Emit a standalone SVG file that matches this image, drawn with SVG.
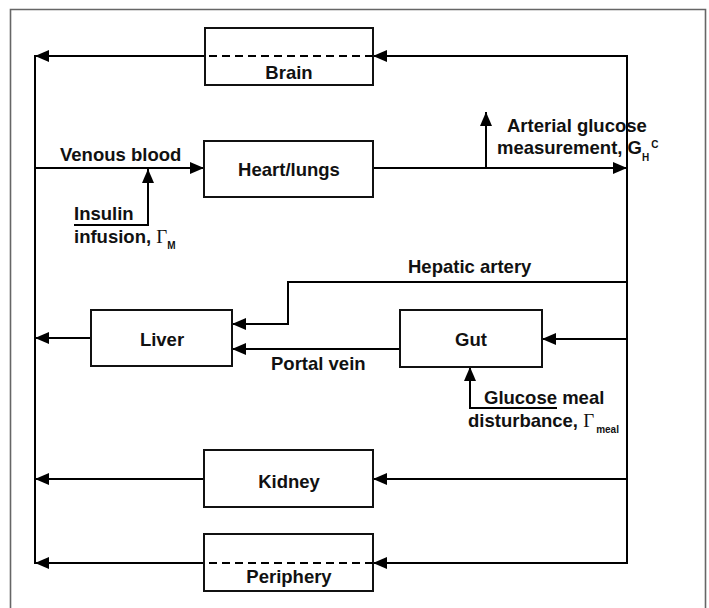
<svg xmlns="http://www.w3.org/2000/svg" width="709" height="608" viewBox="0 0 709 608">
<defs>
<marker id="ah" markerUnits="userSpaceOnUse" markerWidth="14" markerHeight="12" refX="14" refY="6" orient="auto">
<path d="M0,0 L14,6 L0,12 Z" fill="#000"/>
</marker>
<style>
.box{fill:#fff;stroke:#111;stroke-width:2}
.ln{fill:none;stroke:#000;stroke-width:2}
.dash{fill:none;stroke:#000;stroke-width:2;stroke-dasharray:8 5}
.t{font-family:"Liberation Sans",Arial,sans-serif;font-weight:bold;font-size:18.5px;fill:#111}
.c{text-anchor:middle}
.g{font-family:"Liberation Serif","Times New Roman",serif;font-weight:normal;font-size:19px;fill:#111}
.s{font-family:"Liberation Sans",Arial,sans-serif;font-weight:bold;font-size:10px;fill:#111}
</style>
</defs>
<rect width="709" height="608" fill="#fff"/>
<path d="M10.5,612 V9.5 H705.5 V612" fill="none" stroke="#666" stroke-width="1.6"/>

<g id="connectors">
<line class="ln" x1="627" y1="56" x2="373" y2="56" marker-end="url(#ah)"/>
<line class="ln" x1="205" y1="56" x2="35" y2="56" marker-end="url(#ah)"/>
<line class="ln" x1="35" y1="55" x2="35" y2="564"/>
<line class="ln" x1="627" y1="55" x2="627" y2="564"/>
<line class="ln" x1="35" y1="168" x2="204" y2="168" marker-end="url(#ah)"/>
<path class="ln" d="M74,225 H148 V169" marker-end="url(#ah)"/>
<line class="ln" x1="373" y1="168" x2="627" y2="168" marker-end="url(#ah)"/>
<line class="ln" x1="486" y1="168" x2="486" y2="112" marker-end="url(#ah)"/>
<path class="ln" d="M627,282 H288 V324 H232" marker-end="url(#ah)"/>
<line class="ln" x1="400" y1="349" x2="232" y2="349" marker-end="url(#ah)"/>
<line class="ln" x1="91" y1="338" x2="35" y2="338" marker-end="url(#ah)"/>
<line class="ln" x1="627" y1="339" x2="542" y2="339" marker-end="url(#ah)"/>
<path class="ln" d="M557,408 H470 V367" marker-end="url(#ah)"/>
<line class="ln" x1="627" y1="479" x2="373" y2="479" marker-end="url(#ah)"/>
<line class="ln" x1="204" y1="479" x2="35" y2="479" marker-end="url(#ah)"/>
<line class="ln" x1="627" y1="563" x2="373" y2="563" marker-end="url(#ah)"/>
<line class="ln" x1="205" y1="563" x2="35" y2="563" marker-end="url(#ah)"/>
</g>

<g id="brain">
<rect class="box" x="205" y="28" width="168" height="57"/>
<line class="dash" x1="373" y1="56" x2="205" y2="56"/>
<text class="t c" x="289" y="79">Brain</text>
</g>
<g id="heart">
<rect class="box" x="204" y="141" width="169" height="56"/>
<text class="t c" x="289" y="176">Heart/lungs</text>
</g>
<g id="liver">
<rect class="box" x="91" y="310" width="141" height="56"/>
<text class="t c" x="162" y="346">Liver</text>
</g>
<g id="gut">
<rect class="box" x="400" y="310" width="142" height="57"/>
<text class="t c" x="471" y="346">Gut</text>
</g>
<g id="kidney">
<rect class="box" x="204" y="450" width="169" height="57"/>
<text class="t c" x="289" y="488">Kidney</text>
</g>
<g id="periphery">
<rect class="box" x="204" y="534" width="169" height="57"/>
<line class="dash" x1="373" y1="563" x2="205" y2="563"/>
<text class="t c" x="289" y="583">Periphery</text>
</g>

<g id="labels">
<text class="t" x="60" y="161">Venous blood</text>
<text class="t" x="74" y="220">Insulin</text>
<text class="t" x="74" y="243">infusion, <tspan class="g">Γ</tspan><tspan class="s" dy="6">M</tspan></text>
<text class="t" x="507" y="132">Arterial glucose</text>
<text class="t" x="497" y="154">measurement, G<tspan class="s" dy="7">H</tspan><tspan class="s" dy="-13" dx="2">C</tspan></text>
<text class="t" x="408" y="273">Hepatic artery</text>
<text class="t" x="271" y="370">Portal vein</text>
<text class="t" x="484" y="404">Glucose meal</text>
<text class="t" x="468" y="427">disturbance, <tspan class="g">Γ</tspan><tspan class="s" dy="6" dx="2">meal</tspan></text>
</g>
</svg>
